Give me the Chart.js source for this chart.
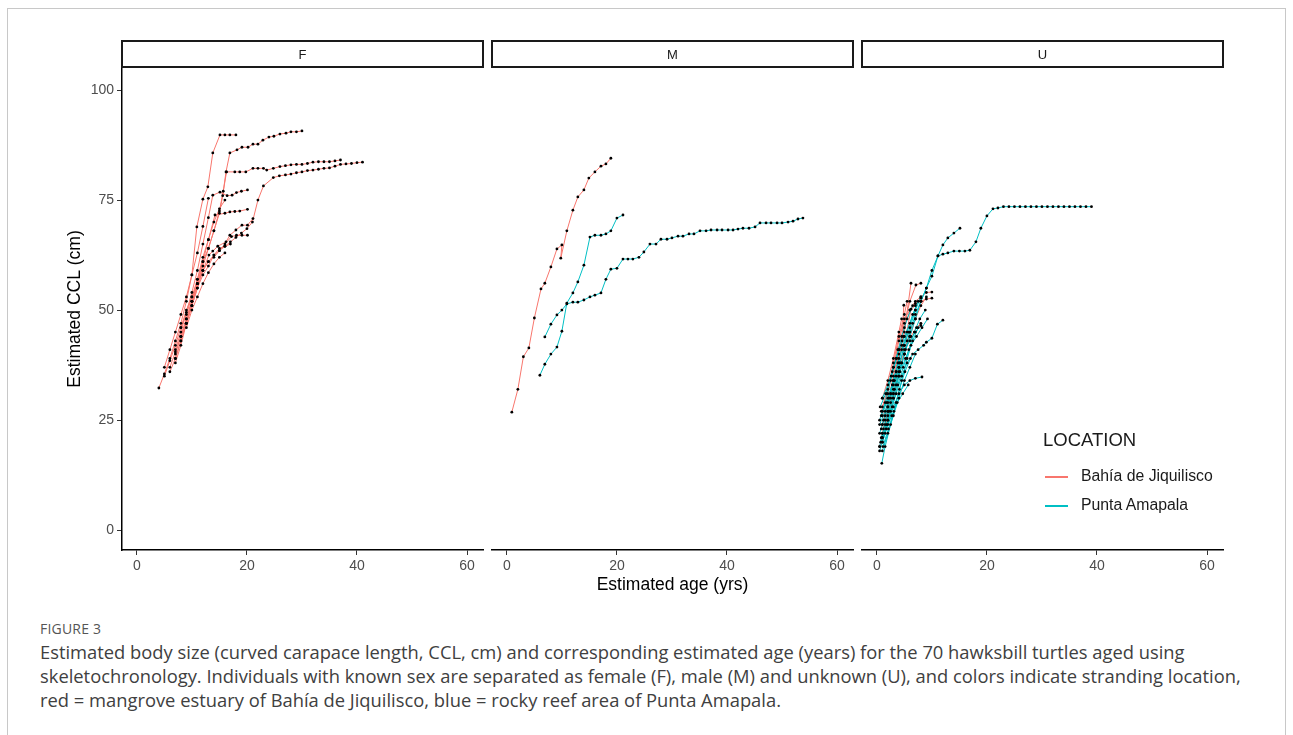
<!DOCTYPE html>
<html>
<head>
<meta charset="utf-8">
<script src="https://cdn.jsdelivr.net/npm/chart.js@4.4.1/dist/chart.umd.min.js"></script>
<style>
  body { margin: 0; background: #fff; width: 1293px; height: 735px; overflow: hidden; position: relative; font-family: "Liberation Sans", Arial, sans-serif; }
  .frame { position: absolute; left: 7px; top: 8px; width: 1277px; height: 760px; border: 1px solid #c8c8c8; }
  .panel { position: absolute; top: 36px; }
  .legend { position: absolute; left: 1043px; top: 429px; color: #1a1a1a; }
  .legend .ltitle { font-size: 18.5px; line-height: 22px; }
  .legend .item { position: absolute; left: 0; font-size: 15.8px; white-space: nowrap; line-height: 18px; }
  .legend .sw { position: absolute; left: 2px; top: 9px; width: 23px; height: 1.5px; }
  .legend .txt { position: absolute; left: 38px; top: 0; }
  .figlabel { position: absolute; left: 40px; top: 619px; font-family: "Open Sans", sans-serif; font-size: 14px; color: #555; letter-spacing: 0.2px; }
  .caption { position: absolute; left: 40px; top: 640px; font-family: "Open Sans", sans-serif; font-size: 18.35px; line-height: 24px; color: #404040; white-space: nowrap; }
</style>
</head>
<body>
<div class="frame"></div>
<div class="panel" style="left:64px"><canvas id="chartF" width="426" height="570"></canvas></div>
<div class="panel" style="left:488px"><canvas id="chartM" width="369" height="570"></canvas></div>
<div class="panel" style="left:858px"><canvas id="chartU" width="369" height="570"></canvas></div>
<div class="legend" id="legend"></div>
<div class="figlabel">FIGURE 3</div>
<div class="caption">Estimated body size (curved carapace length, CCL, cm) and corresponding estimated age (years) for the 70 hawksbill turtles aged using<br>skeletochronology. Individuals with known sex are separated as female (F), male (M) and unknown (U), and colors indicate stranding location,<br>red = mangrove estuary of Bahía de Jiquilisco, blue = rocky reef area of Punta Amapala.</div>

<script>
// facets, locations and axis ticks
const facets = ["F", "M", "U"];
const locations = ["Bahía de Jiquilisco", "Punta Amapala"];
const locationColors = ["#F8766D", "#00BFC4"];
const xTicks = [0, 20, 40, 60];
const yTicks = [0, 25, 50, 75, 100];

// each track = one turtle, points are [age (yrs), CCL (cm)]
const fJiquilisco = [
  [[4,32.3],[5,35.5],[6,39],[7,43],[8,47],[9,52],[10,58],[10.9,68.9],[12,75.2],[12.9,78],[13.8,85.7],[15.1,89.8],[16,89.8],[16.9,89.8],[18,89.8]],
  [[5,35],[6,38.5],[7,42],[8,46],[9,49],[10,53],[11,57],[12,61],[13,64],[14,68],[15,72],[15.6,76],[16.2,81.4],[16.9,85.7],[18.2,86.4],[19.1,87],[20.2,87],[21.1,87.7],[22,87.7],[22.9,88.6],[24,89.3],[24.9,89.5],[26,90],[27.1,90.2],[28,90.5],[29,90.5],[30,90.7]],
  [[6,37],[7,40.5],[8,44],[9,48],[10,52],[11,56],[12,60],[13,64],[14,68],[15,72.5],[15.7,77],[16.3,81.4],[17.8,81.4],[18.7,81.4],[19.8,81.4],[21.1,82.2],[22,82.2],[23,82.2],[23.6,81.8],[24.8,82.2],[26,82.6],[27,82.8],[28,83],[29,83.1],[30,83.1],[31,83.3],[32,83.6],[33,83.7],[34,83.7],[35,83.7],[36,83.9],[37,84.1]],
  [[7,40],[8,44],[9,48],[10,52],[11,56],[12,59],[13,61],[14,62.5],[15,63.5],[16,64.5],[17,65.5],[18,66.5],[19,67.5],[20,68.5],[21,70],[22,75],[23,78.2],[24.8,80.1],[25.9,80.5],[27,80.7],[28,80.9],[29,81.2],[30,81.4],[31,81.7],[32,81.8],[33,82],[34,82.2],[35,82.3],[36,82.7],[37,83.1],[38,83.2],[39,83.3],[40,83.5],[41,83.6]],
  [[7,41],[8,45],[9,49.5],[10,54],[11,59],[12,65],[13,71],[13.8,76.1],[15.1,76.8],[16.4,76],[17.3,76.1],[18.1,76.7],[19,77],[20.1,77.3]],
  [[7,39],[8,43],[9,47],[10,51],[11,56],[12,61],[13,66],[14.2,71.6],[16,72],[16.9,72.3],[17.8,72.4],[18.7,72.5],[20.1,72.9]],
  [[8,44],[9,47],[10,51],[11,55],[12,59],[13.1,62.5],[13.8,63.4],[14.7,64.5],[16.2,65.5],[16.9,67],[18,68.2],[19.1,69.3],[20.1,69.3],[21.1,70.8]],
  [[8,46],[9,50],[10,53],[11,56],[12,59],[13,61],[14,62],[15,63.5],[16,65],[17.2,66.7],[18.1,67],[19.1,67],[20.1,67]],
  [[5,37],[6,41],[7,45],[8,49],[9,53],[10,58],[11,63],[12,69],[13,75.4]],
  [[6,36],[7,39],[8,43],[9,47],[10,51],[11,55],[12,58],[13,60],[14,62.5],[15,64],[16,64.5],[17,65]],
  [[9,46],[10,50],[11,53],[12,56],[13,58.5],[14,60.5],[15,62],[16,63]],
  [[7,38],[8,42],[9,47],[10,52],[11,57],[12,62],[13,66],[14,70],[15,73],[16,75]]
];
const fAmapala = [];

const mJiquilisco = [
  [[0.9,26.8],[2,32],[3,39.4],[4,41.4],[5,48.2],[6.2,54.8],[6.9,56.1],[8,59.8],[9.1,63.9],[10,64.8],[9.8,61.8],[10.9,68],[12,72.7],[12.9,75.7],[14,77.3],[14.9,80],[16,81.4],[17.1,82.7],[18,83.2],[18.9,84.5]]
];
const mAmapala = [
  [[6,35.2],[6.9,37.7],[8,40],[9.1,41.6],[10,45.2],[10.9,51.6],[12,53.9],[12.9,56.4],[14,60.2],[15.1,66.6],[16,67],[17.1,67],[18,67.3],[18.9,68],[20,70.9],[21.1,71.6]],
  [[6.9,43.9],[8,46.8],[9.1,48.9],[10,50],[10.9,51.4],[12,51.8],[12.9,51.8],[14,52.3],[15.1,53],[16,53.4],[17.1,53.9],[18,57],[18.9,59.3],[20,59.5],[21.1,61.6],[22,61.6],[22.9,61.6],[24,62],[24.9,63.2],[26,65],[27.1,65],[28,66.1],[29.1,66.1],[30,66.4],[31.1,66.8],[32,66.8],[33.1,67.3],[34,67.3],[35.1,68],[36.2,68],[37.1,68.2],[38.2,68.2],[39.1,68.2],[40.2,68.2],[41.1,68.2],[42,68.4],[42.9,68.6],[44,68.6],[45.1,68.9],[46,69.8],[47.1,69.8],[48,69.8],[49.1,69.8],[50,69.8],[51.1,70],[52,70.2],[52.9,70.7],[53.8,70.9]]
];

const uJiquilisco = [
  [[1,22],[2,27],[3,33],[4,39],[5,45],[6.2,56.1]],
  [[1,24],[2,29],[3,35],[4,41],[5,47],[6,52],[7.1,55.7],[8,56.1]],
  [[1.5,25],[2.5,30],[3.5,36],[4.5,42],[4.9,51.1]],
  [[1,20],[2,26],[3,31],[4,37],[5,42],[6.2,50.2],[7,51],[8,52.7]],
  [[0.8,23],[2,28],[3,34],[4,40],[5,46],[6,50],[7,52],[8,53],[9,54],[10,54.1]],
  [[1,26],[2,31],[3,37],[4,43],[5,48],[6,50],[7,51.5],[8,52],[9,52.5],[10,52.7]],
  [[1,21],[2,25],[3,30],[4,35],[5,40],[6,44],[7,48],[8,51],[9,53]],
  [[0.5,19],[1.5,24],[2.5,29],[3.5,33],[4.5,38],[5.5,43],[6.5,47]],
  [[1,28],[2,32],[3,38],[4,44],[5,49],[5.5,52]],
  [[1,30],[2,34],[3,39],[4,45],[4.5,48]],
  [[1.2,25],[2.2,30],[3.2,34],[4.2,38],[5.2,41],[6.2,44],[7.2,46],[8,47]],
  [[0.8,27],[1.8,31],[2.8,36],[3.8,41],[4.8,44]]
];
const uAmapala = [
  [[0.5,19],[1,22],[2,27],[3,31],[4,36],[5,40],[6,44],[7,48],[8,52],[9,55],[10,57.7],[11.1,62.3],[12,62.7],[12.9,63],[14,63.4],[15,63.4],[16,63.4],[16.9,63.6],[18,65.5],[18.9,68.6],[20,71.4],[21.1,73],[22,73.2],[23,73.5],[24,73.5],[25,73.5],[26,73.5],[27,73.5],[28,73.5],[29,73.5],[30,73.5],[31,73.5],[32,73.5],[33,73.5],[34,73.5],[35,73.5],[36,73.5],[37,73.5],[38,73.5],[39,73.5]],
  [[1,21],[2,25],[3,30],[4,35],[5,40],[6,45],[7,49],[8,52],[9,55],[10,59],[11.1,62.3],[12,64.8],[12.9,66.4],[14,67.5],[15.1,68.6]],
  [[0.5,18],[1.5,22],[2.5,27],[3.5,31],[4.5,35],[5.5,38],[6.5,40],[7.5,41],[8.5,42],[9,42.7],[10,43.6],[11,46.8],[12,47.7]],
  [[1,20],[2,24],[3,28],[4,31],[5,33],[6,34],[7,34.5],[8.2,34.8]],
  [[0.9,15.2],[1.5,19],[2.5,24],[3.5,29],[4.5,34],[5.5,39],[6.5,43],[7.5,46]],
  [[0.5,22],[1.5,26],[2.5,31],[3.5,36],[4.5,41],[5.5,45],[6.5,49],[7.5,52]],
  [[1,24],[2,28],[3,32],[4,37],[5,42],[6,46],[7,50],[8,53]],
  [[0.8,26],[1.8,29],[2.8,33],[3.8,38],[4.8,42],[5.8,45]],
  [[1,18],[2,22],[3,26],[4,30],[5,34],[6,37],[7,40]],
  [[0.6,28],[1.6,31],[2.6,35],[3.6,39],[4.6,43]],
  [[1.2,23],[2.2,27],[3.2,32],[4.2,36],[5.2,39],[6.2,42],[7.2,44],[8.2,46],[9.2,48]],
  [[0.7,20],[1.7,23],[2.7,26],[3.7,29],[4.7,31],[5.7,33]],
  [[0.5,25],[1.5,29],[2.5,34],[3.5,39],[4.5,44],[5.5,48],[6.5,51]],
  [[1,27],[2,30],[3,34],[4,38],[5,41],[6,43],[7,45],[8,46.5]],
  [[0.8,21],[1.8,24],[2.8,28],[3.8,33],[4.8,37],[5.8,41],[6.8,45],[7.8,48],[8.8,50]],
  [[1.1,19],[2.1,23],[3.1,27],[4.1,32],[5.1,36],[6.1,39]],
  [[0.5,24],[1.5,27],[2.5,31],[3.5,35],[4.5,38]],
  [[1,30],[2,33],[3,37],[4,41],[5,44],[6,47],[7,50]]
];

Chart.defaults.font.family = '"Liberation Sans", Arial, sans-serif';

// facet strip box above each panel
const stripPlugin = {
  id: "strip",
  afterDraw(chart, args, opts) {
    const { ctx, chartArea } = chart;
    const h = 26;
    const top = chartArea.top - h - 1;
    ctx.save();
    ctx.fillStyle = "#fff";
    ctx.fillRect(chartArea.left, top, chartArea.right - chartArea.left, h);
    ctx.lineWidth = 2;
    ctx.strokeStyle = "#1a1a1a";
    ctx.strokeRect(chartArea.left, top, chartArea.right - chartArea.left, h);
    ctx.fillStyle = "#1a1a1a";
    ctx.font = '13px "Liberation Sans", Arial, sans-serif';
    ctx.textAlign = "center";
    ctx.textBaseline = "middle";
    ctx.fillText(opts.label, (chartArea.left + chartArea.right) / 2, top + h / 2 + 1);
    ctx.restore();
  }
};

function trackDatasets(tracks, color, order) {
  const out = [];
  tracks.forEach(track => {
    const pts = track.map(p => ({ x: p[0], y: p[1] }));
    // line first
    out.push({ data: pts, showLine: true, borderColor: color, borderWidth: 1, pointRadius: 0, tension: 0, order: order });
    // black dots on top
    out.push({ data: pts, showLine: false, pointRadius: 1.4, pointBackgroundColor: "#000", pointBorderWidth: 0, order: 0 });
  });
  return out;
}

function makeChart(id, facet, red, teal, showY, xTitle, padRight) {
  const ctx = document.getElementById(id).getContext("2d");
  return new Chart(ctx, {
    type: "scatter",
    data: {
      datasets: trackDatasets(red, locationColors[0], 2).concat(trackDatasets(teal, locationColors[1], 1))
    },
    options: {
      responsive: false,
      animation: false,
      devicePixelRatio: 1,
      events: [],
      layout: { padding: { top: 32, right: padRight, bottom: 0, left: 0 } },
      scales: {
        x: {
          type: "linear",
          min: -2.7,
          max: 62.9,
          afterBuildTicks: s => { s.ticks = xTicks.map(v => ({ value: v })); },
          afterFit: s => { s.height = 56; },
          grid: { display: true, drawOnChartArea: false, drawTicks: true, tickLength: 5, tickColor: "#333", tickWidth: 1 },
          border: { display: true, color: "#000", width: 1.5 },
          ticks: { color: "#4d4d4d", font: { size: 14 }, padding: 3, maxRotation: 0 },
          title: { display: !!xTitle, text: xTitle || "", color: "#000", font: { size: 17.5 }, padding: { top: 0, bottom: 10 } }
        },
        y: {
          type: "linear",
          display: showY,
          min: -4.5,
          max: 105,
          afterBuildTicks: s => { s.ticks = yTicks.map(v => ({ value: v })); },
          afterFit: s => { s.width = showY ? 58 : 0; },
          grid: { display: true, drawOnChartArea: false, drawTicks: true, tickLength: 5, tickColor: "#333", tickWidth: 1 },
          border: { display: true, color: "#000", width: 1.5 },
          ticks: { color: "#4d4d4d", font: { size: 14 }, padding: 3 },
          title: { display: true, text: "Estimated CCL (cm)", color: "#000", font: { size: 17.5 }, padding: { top: 1, bottom: 0 } }
        }
      },
      plugins: {
        legend: { display: false },
        tooltip: { enabled: false },
        strip: { label: facet }
      }
    },
    plugins: [stripPlugin]
  });
}

makeChart("chartF", facets[0], fJiquilisco, fAmapala, true, null, 7);
makeChart("chartM", facets[1], mJiquilisco, mAmapala, false, "Estimated age (yrs)", 2);
makeChart("chartU", facets[2], uJiquilisco, uAmapala, false, null, 2);

// legend built from the location list
const legend = document.getElementById("legend");
legend.innerHTML = '<div class="ltitle">LOCATION</div>';
locations.forEach((name, i) => {
  const item = document.createElement("div");
  item.className = "item";
  item.style.top = (38 + i * 29) + "px";
  item.innerHTML = '<span class="sw" style="background:' + locationColors[i] + '"></span><span class="txt">' + name + "</span>";
  legend.appendChild(item);
});
</script>
</body>
</html>
